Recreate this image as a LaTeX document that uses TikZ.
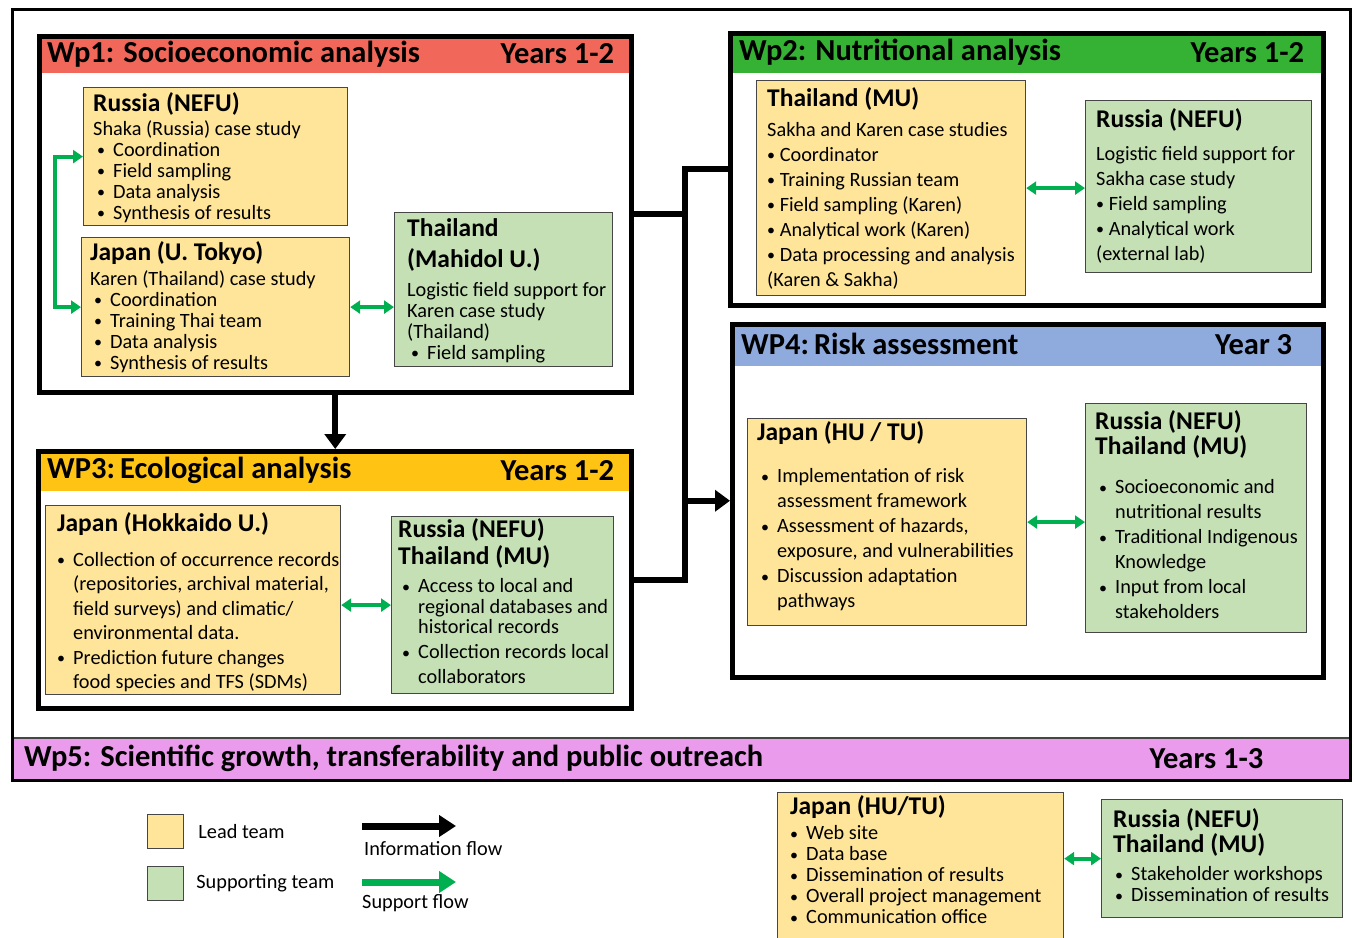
\documentclass[tikz,border=0pt]{standalone}
\usepackage{fontspec}
\setmainfont{Carlito}
\usepackage{xcolor}
\usetikzlibrary{arrows.meta, positioning, calc}

\definecolor{wpred}{RGB}{241,104,90}
\definecolor{wpgreen}{RGB}{53,178,52}
\definecolor{wpyellow}{RGB}{255,195,20}
\definecolor{wpblue}{RGB}{143,170,220}
\definecolor{wppink}{RGB}{235,155,235}
\definecolor{leadfill}{RGB}{255,229,153}
\definecolor{supfill}{RGB}{197,224,180}
\definecolor{supgreen}{RGB}{0,176,80}
\definecolor{boxline}{RGB}{70,70,70}

% box headings and bullet lines
\newcommand{\hd}[1]{{\fontsize{25.5}{27}\selectfont\bfseries #1}}
\newcommand{\smallbul}{\raisebox{0.5pt}{\fontsize{16}{16}\selectfont\textbullet}}
\newcommand{\bul}[1][4pt]{\hspace*{#1}\makebox[16pt][l]{\smallbul}}
\newcommand{\ind}[1][4pt]{\hspace*{\dimexpr #1+16pt\relax}}
\newcommand{\tightlines}{\lineskiplimit=-100pt\relax}

\tikzset{
    outerframe/.style={
        rectangle,
        draw=black,
        line width=3pt,
        anchor=north west,
        inner sep=0pt
    },
    wpframe/.style={
        rectangle,
        draw=black,
        line width=4.5pt,
        anchor=north west,
        inner sep=0pt
    },
    wphead/.style={
        rectangle,
        anchor=north west,
        inner sep=0pt,
        minimum height=39pt
    },
    headtext/.style={
        font=\fontsize{30.5}{33}\selectfont\bfseries,
        inner sep=0pt
    },
    lead/.style={
        rectangle,
        draw=boxline,
        line width=1.2pt,
        fill=leadfill,
        anchor=north west,
        inner sep=0pt
    },
    support/.style={
        lead,
        fill=supfill
    },
    teamtext/.style={
        align=left,
        inner sep=0pt,
        anchor=north west,
        font=\fontsize{20.3}{21}\selectfont\tightlines
    },
    legendtext/.style={
        font=\fontsize{20.3}{22}\selectfont,
        inner sep=0pt
    },
    infoline/.style={
        draw=black,
        line width=6pt
    },
    infoflow/.style={
        infoline,
        -{Triangle[width=21pt,length=15pt]}
    },
    supflow/.style={
        draw=supgreen,
        line width=4pt,
        {Triangle[width=13pt,length=10pt]}-{Triangle[width=13pt,length=10pt]}
    }
}

\begin{document}
\begin{tikzpicture}[x=1pt, y=-1pt]
\useasboundingbox (0,0) rectangle (1354,937);
\clip (0,0) rectangle (1354,937);

% Wp5 band and outer frame
\node[wphead, fill=wppink, draw=boxline, line width=1.5pt, minimum width=1338pt, minimum height=42pt] (wp5h) at (11,737) {};
\node[headtext, right=13pt of wp5h.west] (wp5t) {Wp5: Scientific growth, transferability and public outreach};
\node[headtext, left=87pt of wp5h.east] (wp5y) {Years 1-3};
\node[outerframe, minimum width=1338pt, minimum height=771pt] (frame) at (11,8) {};

% Work packages
\node[wphead, fill=wpred, minimum width=592pt] (wp1h) at (37,34) {};
\node[wpframe, minimum width=592pt, minimum height=356pt] (wp1) at (37,34) {};
\node[headtext, right=10pt of wp1h.west] (wp1t) {Wp1: Socioeconomic analysis};
\node[headtext, left=15pt of wp1h.east] (wp1y) {Years 1-2};

\node[wphead, fill=wpgreen, minimum width=593pt, minimum height=42pt] (wp2h) at (728,31) {};
\node[wpframe, minimum width=593pt, minimum height=272pt] (wp2) at (728,31) {};
\node[headtext, right=11pt of wp2h.west] (wp2t) {Wp2: Nutritional analysis};
\node[headtext, left=17pt of wp2h.east] (wp2y) {Years 1-2};

\node[wphead, fill=wpyellow, minimum width=593pt, minimum height=42pt] (wp3h) at (36,449) {};
\node[wpframe, minimum width=593pt, minimum height=257pt] (wp3) at (36,449) {};
\node[headtext, right=11pt of wp3h.west] (wp3t) {WP3:\,Ecological analysis};
\node[headtext, left=15pt of wp3h.east] (wp3y) {Years 1-2};

\node[wphead, fill=wpblue, minimum width=591pt, minimum height=44pt] (wp4h) at (730,322) {};
\node[wpframe, minimum width=591pt, minimum height=353pt] (wp4) at (730,322) {};
\node[headtext, right=11pt of wp4h.west] (wp4t) {WP4:\,Risk assessment};
\node[headtext, left=29pt of wp4h.east] (wp4y) {Year 3};

% Wp1 teams
\node[lead, minimum width=264pt, minimum height=138pt] (rus1) at (83,87) {};
\node[teamtext, below right=5pt and 10pt of rus1.north west] (rus1t) {\hd{Russia (NEFU)}\\[3pt]
    Shaka (Russia) case study\\ \bul Coordination\\ \bul Field sampling\\
    \bul Data analysis\\ \bul Synthesis of results};
\node[lead, minimum width=268pt, minimum height=139pt] (jap1) at (81,237) {};
\node[teamtext, below right=4pt and 9pt of jap1.north west] (jap1t) {\hd{Japan (U. Tokyo)}\\[4pt]
    Karen (Thailand) case study\\ \bul Coordination\\ \bul Training Thai team\\
    \bul Data analysis\\ \bul Synthesis of results};
\node[support, minimum width=218pt, minimum height=154pt] (tha1) at (394,212) {};
\node[teamtext, below right=6pt and 13pt of tha1.north west] (tha1t) {\hd{Thailand}\\[10pt]\hd{(Mahidol U.)}\\[8pt]
    Logistic field support for\\ Karen case study\\ (Thailand)\\ \bul Field sampling};

\draw[supflow] (rus1.west) -- ++(-28,0) |- (jap1.west);
\draw[supflow] (jap1.east) -- (jap1.east -| tha1.west);

% Wp2 teams
\node[lead, minimum width=269pt, minimum height=215pt] (tha2) at (756,80) {};
\node[teamtext, font=\fontsize{20.3}{25}\selectfont\tightlines,
    below right=7pt and 11pt of tha2.north west] (tha2t) {\hd{Thailand (MU)}\\[5pt]
    Sakha and Karen case studies\\ \smallbul\ Coordinator\\ \smallbul\ Training Russian team\\
    \smallbul\ Field sampling (Karen)\\ \smallbul\ Analytical work (Karen)\\
    \smallbul\ Data processing and analysis\\ (Karen \& Sakha)};
\node[support, minimum width=226pt, minimum height=172pt] (rus2) at (1085,100) {};
\node[teamtext, font=\fontsize{20.3}{25}\selectfont\tightlines,
    below right=8pt and 11pt of rus2.north west] (rus2t) {\hd{Russia (NEFU)}\\[8pt]
    Logistic field support for\\ Sakha case study\\ \smallbul\ Field sampling\\
    \smallbul\ Analytical work\\ (external lab)};

\draw[supflow] (tha2.east) -- (tha2.east -| rus2.west);

% Wp3 teams
\node[lead, minimum width=295pt, minimum height=189pt] (jap3) at (45,505) {};
\node[teamtext, font=\fontsize{20.3}{24.5}\selectfont\tightlines,
    below right=7pt and 12pt of jap3.north west] (jap3t) {\hd{Japan (Hokkaido U.)}\\[10.5pt]
    \bul[0pt]Collection of occurrence records\\ \ind[0pt](repositories, archival material,\\
    \ind[0pt]field surveys) and climatic/\\ \ind[0pt]environmental data.\\
    \bul[0pt]Prediction future changes\\ \ind[0pt]food species and TFS (SDMs)};
\node[support, minimum width=222pt, minimum height=177pt] (rus3) at (391,516) {};
\node[teamtext, font=\fontsize{20.3}{20.5}\selectfont\tightlines,
    below right=2pt and 7pt of rus3.north west] (rus3t) {\hd{Russia (NEFU)}\\[6.5pt]\hd{Thailand (MU)}\\[8pt]
    \bul Access to local and\\ \ind regional databases and\\ \ind historical records\\[4.5pt]
    \bul Collection records local\\[4.5pt] \ind collaborators};

\draw[supflow] (jap3.east |- rus3.west) -- (rus3.west);

% Wp4 teams
\node[lead, minimum width=279pt, minimum height=207pt] (jap4) at (747,418) {};
\node[teamtext, font=\fontsize{20.3}{25}\selectfont\tightlines,
    below right=3pt and 10pt of jap4.north west] (jap4t) {\hd{Japan (HU / TU)}\\[17.5pt]
    \bul Implementation of risk\\ \ind assessment framework\\ \bul Assessment of hazards,\\
    \ind exposure, and vulnerabilities\\ \bul Discussion adaptation\\ \ind pathways};
\node[support, minimum width=221pt, minimum height=229pt] (rus4) at (1085,403) {};
\node[teamtext, font=\fontsize{20.3}{25}\selectfont\tightlines,
    below right=7pt and 10pt of rus4.north west] (rus4t) {\hd{Russia (NEFU)}\\ \hd{Thailand (MU)}\\[14.5pt]
    \bul Socioeconomic and\\ \ind nutritional results\\ \bul Traditional Indigenous\\
    \ind Knowledge\\ \bul Input from local\\ \ind stakeholders};

\draw[supflow] (jap4.east) -- (jap4.east -| rus4.west);

% Wp5 teams
\node[lead, minimum width=286pt, minimum height=160pt] (jap5) at (777,792) {};
\node[teamtext, below right=3pt and 13pt of jap5.north west] (jap5t) {\hd{Japan (HU/TU)}\\[4.5pt]
    \bul[0pt]Web site\\ \bul[0pt]Data base\\ \bul[0pt]Dissemination of results\\
    \bul[0pt]Overall project management\\ \bul[0pt]Communication office};
\node[support, minimum width=241pt, minimum height=118pt] (rus5) at (1101,799) {};
\node[teamtext, below right=9pt and 12pt of rus5.north west] (rus5t) {\hd{Russia (NEFU)}\\[4pt]\hd{Thailand (MU)}\\[7.5pt]
    \bul[2pt]Stakeholder workshops\\ \bul[2pt]Dissemination of results};

\draw[supflow] (rus5.west -| jap5.east) -- (rus5.west);

% Information flow between work packages
\coordinate (hub) at ($(wp1.east)+(51,0)$);
\draw[infoflow] (wp1.south) -- (wp1.south |- wp3.north);
\draw[infoline] (wp1.east) -- (wp1.east -| hub);
\draw[infoline] (wp3.east) -| (hub |- wp2.west) -- (wp2.west);
\draw[infoflow] (hub |- wp4.west) -- (wp4.west);

% Legend
\node[lead, minimum width=36pt, minimum height=34pt] (keylead) at (147,814) {};
\node[legendtext, right=14pt of keylead] (keyleadt) {Lead team};
\node[support, minimum width=36pt, minimum height=34pt] (keysup) at (147,866) {};
\node[legendtext, right=12pt of keysup] (keysupt) {Supporting team};
\coordinate (infoA) at (362,826);
\coordinate (infoB) at (456,826);
\draw[draw=black, line width=7pt, -{Triangle[width=21pt,length=17pt]}] (infoA) -- (infoB);
\node[legendtext, anchor=west] (infot) at (364,849) {Information flow};
\coordinate (supA) at (362,882);
\coordinate (supB) at (456,882);
\draw[draw=supgreen, line width=7pt, -{Triangle[width=21pt,length=17pt]}] (supA) -- (supB);
\node[legendtext, anchor=west] (supt) at (362,903) {Support flow};

\end{tikzpicture}
\end{document}
